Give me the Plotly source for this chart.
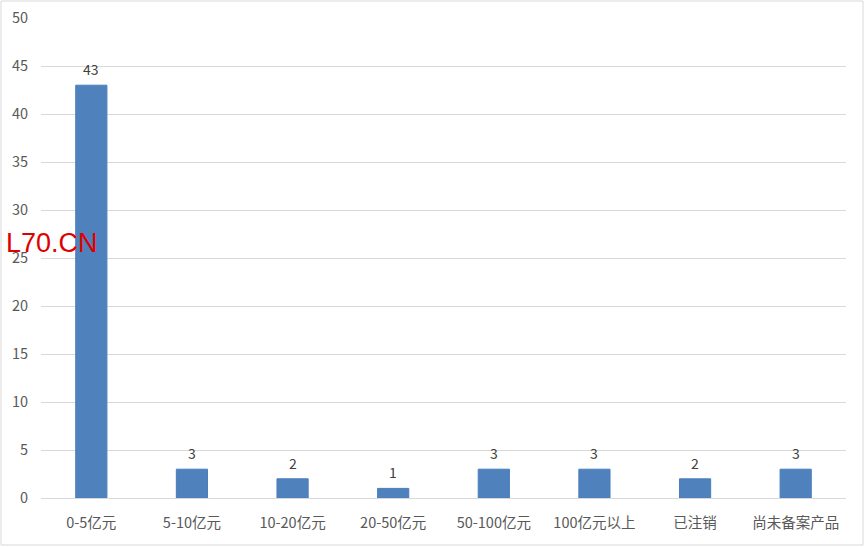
import plotly.graph_objects as go

categories = ["0-5亿元", "5-10亿元", "10-20亿元", "20-50亿元", "50-100亿元", "100亿元以上", "已注销", "尚未备案产品"]
values = [43, 3, 2, 1, 3, 3, 2, 3]
y_ticks = [0, 5, 10, 15, 20, 25, 30, 35, 40, 45, 50]

W, H = 865, 547
L, R, T, B = 41, 19, 18, 49
pw, ph = W - L - R, H - T - B

def px(x):
    return (x - L) / pw

def py(y):
    return (H - B - y) / ph

FONT = "Noto Sans CJK SC"

fig = go.Figure()
fig.add_trace(go.Bar(
    x=categories, y=values,
    marker=dict(color="#4F81BD", line=dict(color="#4A7EBB", width=1)),
    width=0.31,
    hoverinfo="x+y",
))

for c, v in zip(categories, values):
    fig.add_annotation(x=c, y=v, text=str(v), showarrow=False, yanchor="middle",
                       yshift=16, font=dict(size=14, color="#404040", family=FONT))

fig.update_layout(
    width=W, height=H,
    margin=dict(l=L, r=R, t=T, b=B),
    paper_bgcolor="white", plot_bgcolor="white",
    showlegend=False,
    font=dict(family=FONT, size=14, color="#595959"),
    xaxis=dict(showgrid=False, showline=False, ticks="", ticklabelstandoff=14,
               tickfont=dict(size=14.5, color="#595959", family=FONT)),
    yaxis=dict(range=[0, 50], tickvals=y_ticks, showgrid=True, gridcolor="#D9D9D9", gridwidth=1,
               zeroline=True, zerolinecolor="#D9D9D9", zerolinewidth=1,
               ticks="", ticklen=0, ticklabelstandoff=12,
               tickfont=dict(size=14.5, color="#595959", family=FONT), automargin=False),
    bargap=0.69,
)

fig.add_shape(type="rect", xref="paper", yref="paper",
              x0=px(1), x1=px(863), y0=py(545), y1=py(1),
              line=dict(color="#D9D9D9", width=1), fillcolor="rgba(0,0,0,0)", layer="below")

fig.add_annotation(text="L70.CN", xref="paper", yref="paper", x=px(4), y=py(243),
                   xanchor="left", yanchor="middle", showarrow=False,
                   font=dict(size=27, color="#E00000", family="Liberation Sans"))

fig.write_html("out.html", config={"displayModeBar": False},
               post_script="document.body.style.margin='0';document.body.style.overflow='hidden';")
